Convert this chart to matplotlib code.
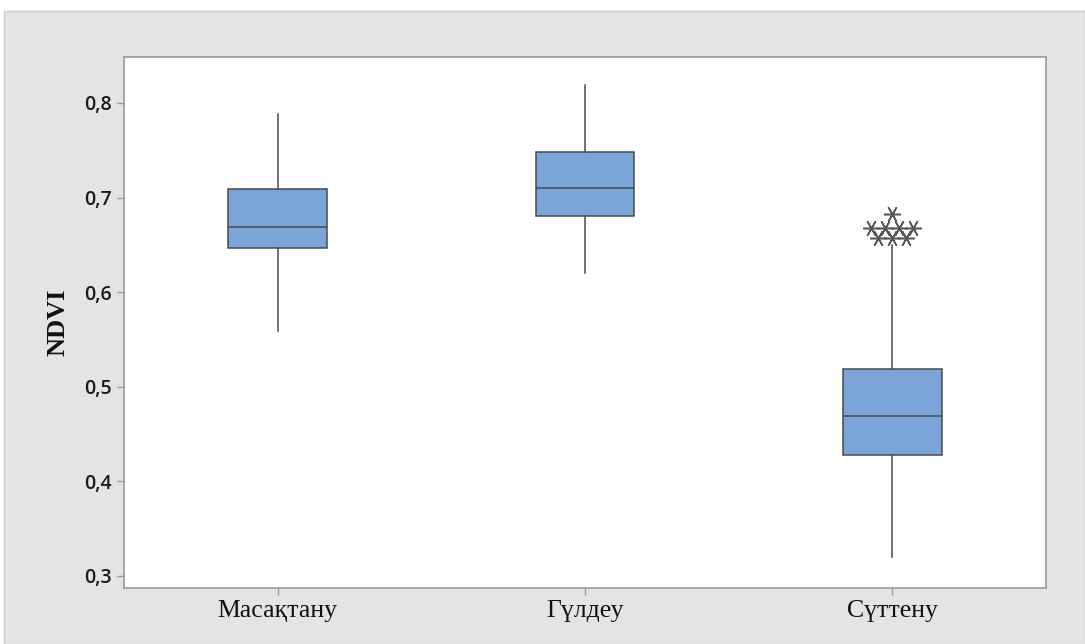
import matplotlib
matplotlib.use("Agg")
import matplotlib.pyplot as plt
from matplotlib.patches import Rectangle
from collections import Counter

# Growth stages and NDVI box statistics
stages = ["Масақтану", "Гүлдеу", "Сүттену"]
whisker_low = [0.559, 0.620, 0.320]
q1 = [0.647, 0.681, 0.428]
median = [0.669, 0.710, 0.469]
q3 = [0.709, 0.748, 0.519]
whisker_high = [0.788, 0.819, 0.650]

# Outliers for Сүттену (repeated values are spread sideways)
outlier_values = [0.683, 0.668, 0.668, 0.668, 0.668, 0.657, 0.657, 0.657]
outlier_stage = 3

yticks = [0.3, 0.4, 0.5, 0.6, 0.7, 0.8]
ytick_labels = ["0,3", "0,4", "0,5", "0,6", "0,7", "0,8"]

fig = plt.figure(figsize=(10.85, 6.44), dpi=100)
fig.patch.set_facecolor("white")
fig.patches.append(Rectangle((4 / 1085, 0), 1 - 4 / 1085, 1 - 11 / 644,
                             transform=fig.transFigure, facecolor="#e4e4e4",
                             edgecolor="#c8c8c8", linewidth=1.0, zorder=-10))

ax = fig.add_axes([124 / 1085, 1 - 588 / 644, (1046 - 124) / 1085, (588 - 57) / 644])
ax.set_facecolor("white")

stats = []
for i, name in enumerate(stages):
    stats.append(dict(label=name, whislo=whisker_low[i], q1=q1[i], med=median[i],
                      q3=q3[i], whishi=whisker_high[i], fliers=[]))

edge = "#4a4a4a"
ax.bxp(stats, positions=[1, 2, 3], widths=0.32, patch_artist=True,
       showcaps=False,
       boxprops=dict(facecolor="#7ba5d8", edgecolor=edge, linewidth=1.1),
       medianprops=dict(color=edge, linewidth=1.1),
       whiskerprops=dict(color=edge, linewidth=1.1))

# Place outliers with identical values next to each other
counts = Counter(outlier_values)
seen = Counter()
step = 0.0455
for v in outlier_values:
    n = counts[v]
    k = seen[v]
    seen[v] += 1
    dx = (k - (n - 1) / 2) * step
    ax.plot(outlier_stage + dx, v, marker=(6, 2, 90), markersize=12,
            color="#555555", markeredgewidth=1.1, linestyle="none", zorder=5)

ax.set_xlim(0.5, 3.5)
ax.set_ylim(0.2873, 0.8486)
ax.set_yticks(yticks)
ax.set_yticklabels(ytick_labels, fontsize=14, family="Open Sans", fontweight="semibold",
                   color="#1a1a1a")
ax.set_xticks([1, 2, 3])
ax.set_xticklabels(stages, fontsize=18.5, family="Liberation Serif", color="#111111")

for s in ax.spines.values():
    s.set_color("#9a9a9a")
    s.set_linewidth(1.2)
ax.tick_params(axis="both", direction="out", length=5, color="#9a9a9a", width=1)
ax.tick_params(axis="x", pad=4)
ax.tick_params(axis="y", pad=4)

ax.set_ylabel("NDVI", fontsize=19, family="Liberation Serif", fontweight="bold",
              color="#111111")
ax.yaxis.set_label_coords(-0.0595, 0.5)

fig.savefig("out.png", dpi=100, facecolor=fig.get_facecolor())
